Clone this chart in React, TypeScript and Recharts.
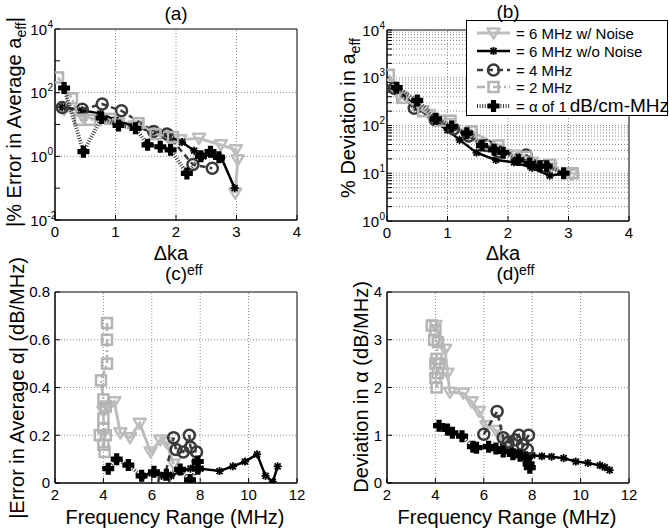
import React from 'react';
import { ScatterChart, Scatter, XAxis, YAxis, ReferenceLine, ReferenceArea } from 'recharts';

const FONT = '"Liberation Sans", Arial, Helvetica, sans-serif';

// ---------- legend / series names ----------
const SERIES_NAMES = ['6 MHz w/ Noise', '6 MHz w/o Noise', '4 MHz', '2 MHz', 'α of 1'];
const LEGEND_SUFFIX = 'dB/cm-MHz';

// ---------- panel (a): |% Error in Average a_eff| vs Δka_eff ----------
const aNoise = [[0.15, 30], [0.45, 18], [0.75, 14], [1.05, 11], [1.35, 9], [1.6, 6], [1.85, 4.5], [2.07, 3.3], [2.38, 3.7], [2.74, 2.3], [2.99, 1.6], [3.02, 0.78], [2.98, 0.07]];
const aNoNoise = [[0.12, 35], [0.45, 28], [0.75, 22], [1.0, 14], [1.3, 9], [1.6, 6], [1.9, 4], [2.1, 2.8], [2.3, 1.5], [2.45, 1.0], [2.6, 1.2], [2.75, 0.9], [2.97, 0.1]];
const a4MHz = [[0.12, 34], [0.45, 30], [0.78, 44], [1.1, 27], [1.63, 6], [1.85, 5], [2.28, 0.55], [2.6, 0.42]];
const a2MHz = [[0.05, 300], [0.28, 66], [0.41, 14], [0.58, 14], [0.91, 15], [1.38, 11], [1.66, 5], [1.95, 4]];
const aAlpha = [[0.15, 140], [0.47, 1.4], [0.77, 16], [1.05, 9.3], [1.33, 7.6], [1.53, 2.3], [1.74, 2.0], [1.91, 1.6], [2.18, 0.29], [2.41, 1.0], [2.57, 1.4], [2.71, 0.93]];

// ---------- panel (b): % Deviation in a_eff vs Δka_eff ----------
const bNoise = [[0.2, 420], [0.45, 260], [0.7, 170], [1.0, 110], [1.3, 65], [1.55, 42], [1.8, 32], [2.1, 24], [2.4, 17], [2.7, 13], [3.05, 9.5]];
const bNoNoise = [[0.15, 600], [0.5, 240], [0.8, 120], [1.0, 80], [1.2, 50], [1.48, 27], [1.8, 19], [2.1, 17], [2.4, 13], [2.69, 8.9], [2.94, 10]];
const b4MHz = [[0.12, 600], [0.45, 230], [0.8, 130], [1.1, 85], [1.35, 60], [1.65, 38], [1.85, 28], [2.3, 24], [2.6, 14]];
const b2MHz = [[0.03, 1150], [0.25, 380], [0.6, 200], [0.88, 126], [1.05, 126], [1.4, 75], [1.84, 38], [2.3, 22], [2.7, 15], [3.07, 10]];
const bAlpha = [[0.16, 620], [0.5, 335], [0.81, 138], [1.07, 95], [1.32, 69], [1.57, 38], [1.77, 31], [1.92, 27], [2.17, 19], [2.36, 16], [2.53, 14], [2.64, 14], [2.92, 10]];

// ---------- panel (c): |Error in Average α| vs frequency range ----------
const cNoise = [[4.0, 0.3], [4.2, 0.32], [4.45, 0.34], [4.7, 0.21], [5.1, 0.19], [5.5, 0.25], [5.95, 0.13], [6.35, 0.18], [6.6, 0.17], [6.9, 0.08]];
const cNoNoise = [[5.6, 0.03], [6.0, 0.04], [6.4, 0.03], [6.8, 0.03], [7.2, 0.05], [7.6, 0.06], [7.8, 0.09], [8.0, 0.06], [8.8, 0.05], [9.35, 0.07], [9.85, 0.09], [10.35, 0.12], [10.7, 0.03], [11.0, 0.005], [11.2, 0.07]];
const c4MHz = [[6.5, 0.01], [6.9, 0.19], [7.0, 0.14], [7.3, 0.13], [7.55, 0.2], [7.6, 0.15], [7.85, 0.13]];
const c2MHz = [[4.15, 0.67], [4.15, 0.6], [4.15, 0.5], [3.9, 0.43], [4.0, 0.35], [4.1, 0.32], [4.0, 0.27], [4.1, 0.2], [3.85, 0.2], [4.0, 0.16], [4.05, 0.13], [4.0, 0.23]];
const cAlpha = [[4.2, 0.06], [4.55, 0.1], [5.03, 0.075], [5.58, 0.03], [6.09, 0.047], [6.6, 0.035], [7.17, 0.057], [7.58, 0.013], [7.9, 0.06], [7.9, 0.09]];

// ---------- panel (d): Deviation in α vs frequency range ----------
const dNoise = [[4.0, 3.3], [4.4, 2.8], [4.5, 2.3], [4.6, 1.9], [5.15, 1.88], [5.5, 1.7], [5.8, 1.5], [6.1, 1.2], [6.5, 1.1], [6.8, 0.9], [7.0, 0.85]];
const dNoNoise = [[6.8, 0.75], [7.1, 0.7], [7.4, 0.65], [7.7, 0.6], [8.0, 0.58], [8.4, 0.56], [8.8, 0.55], [9.3, 0.52], [9.8, 0.45], [10.3, 0.42], [10.8, 0.37], [11.0, 0.33], [11.2, 0.27]];
const d4MHz = [[6.0, 1.02], [6.55, 1.5], [6.8, 0.95], [7.0, 0.85], [7.3, 0.9], [7.45, 1.0], [7.6, 0.8], [7.85, 1.0], [7.8, 0.7]];
const d2MHz = [[3.85, 3.3], [4.0, 3.2], [3.95, 3.0], [4.1, 2.95], [4.05, 2.6], [4.0, 2.5], [4.1, 2.3], [4.0, 2.2], [4.05, 2.0], [4.15, 2.5]];
const dAlpha = [[4.15, 1.2], [4.5, 1.12], [4.7, 1.05], [5.1, 0.98], [5.55, 0.76], [5.7, 0.74], [6.2, 0.76], [6.5, 0.72], [6.8, 0.66], [7.2, 0.6], [7.5, 0.57], [7.75, 0.52], [7.85, 0.4], [7.9, 0.32]];

// ---------- ticks ----------
const kaTicks = [0, 1, 2, 3, 4];
const freqTicks = [2, 4, 6, 8, 10, 12];
const aYTicks = [0.01, 0.1, 1, 10, 100, 1000, 10000];
const aYLabels = [-2, 0, 2, 4];
const bYMinor = [1, 2, 3, 4, 5, 6, 7, 8, 9, 10, 20, 30, 40, 50, 60, 70, 80, 90, 100, 200, 300, 400, 500, 600, 700, 800, 900, 1000, 2000, 3000, 4000, 5000, 6000, 7000, 8000, 9000, 10000];
const bYLabels = [0, 1, 2, 3, 4];
const cYTicks = [0, 0.2, 0.4, 0.6, 0.8];
const dYTicks = [0, 1, 2, 3, 4];

// ---------- styles ----------
type Kind = 'tri' | 'star' | 'circle' | 'square' | 'plus';
const STYLES: { color: string; width: number; dash?: string; kind: Kind }[] = [
  { color: '#bdbdbd', width: 3, kind: 'tri' },
  { color: '#000000', width: 2.5, kind: 'star' },
  { color: '#3a3a3a', width: 2.5, dash: '6 4', kind: 'circle' },
  { color: '#b4b4b4', width: 2.5, dash: '8 3 2 3', kind: 'square' },
  { color: '#3a3a3a', width: 4, dash: '1 1.6', kind: 'plus' },
];

function plusPath(cx: number, cy: number, a: number, t: number) {
  return `M${cx - t},${cy - a}H${cx + t}V${cy - t}H${cx + a}V${cy + t}H${cx + t}V${cy + a}H${cx - t}V${cy + t}H${cx - a}V${cy - t}H${cx - t}Z`;
}

function Marker({ kind, cx, cy }: { kind: Kind; cx: number; cy: number }) {
  if (cx == null || cy == null || isNaN(cx) || isNaN(cy)) return <g />;
  switch (kind) {
    case 'tri':
      return <path d={`M${cx - 6},${cy - 4.5}L${cx + 6},${cy - 4.5}L${cx},${cy + 5.5}Z`} fill="none" stroke="#bdbdbd" strokeWidth={2.5} strokeLinejoin="round" />;
    case 'star':
      return (
        <g stroke="#000" strokeWidth={1.8}>
          <line x1={cx - 4} y1={cy} x2={cx + 4} y2={cy} />
          <line x1={cx} y1={cy - 4} x2={cx} y2={cy + 4} />
          <line x1={cx - 3} y1={cy - 3} x2={cx + 3} y2={cy + 3} />
          <line x1={cx - 3} y1={cy + 3} x2={cx + 3} y2={cy - 3} />
        </g>
      );
    case 'circle':
      return <circle cx={cx} cy={cy} r={5.5} fill="none" stroke="#3a3a3a" strokeWidth={2.5} />;
    case 'square':
      return <rect x={cx - 5} y={cy - 5} width={10} height={10} fill="none" stroke="#b4b4b4" strokeWidth={2.5} />;
    case 'plus':
    default:
      return <path d={plusPath(cx, cy, 6, 2.6)} fill="#000" />;
  }
}

const LogTick = (props: any) => {
  const { x, y, payload, labels } = props;
  const lv = Math.log10(payload.value);
  const e = Math.round(lv);
  if (Math.abs(lv - e) > 1e-6 || !labels.includes(e)) return <g />;
  return (
    <g>
      <text x={x} y={y + 5.5} textAnchor="end" fontSize={15} fontFamily={FONT} fill="#000">10</text>
      <text x={x + 0.5} y={y - 1.5} textAnchor="start" fontSize={10} fontFamily={FONT} fill="#000">{e}</text>
    </g>
  );
};

type PanelProps = {
  plot: { l: number; t: number; r: number; b: number };
  xDomain: [number, number];
  xTicks: number[];
  xGrid: number[];
  yDomain: [number, number];
  yTicks: number[];
  yGrid: number[];
  log?: boolean;
  logLabels?: number[];
  series: number[][][];
};

function Panel({ plot, xDomain, xTicks, xGrid, yDomain, yTicks, yGrid, log, logLabels, series }: PanelProps) {
  const ML = 10, YW = 50, MT = 20, MR = 20, XH = 30, MB = 10;
  const w = plot.r - plot.l;
  const h = plot.b - plot.t;
  const width = w + ML + YW + MR;
  const height = h + MT + XH + MB;
  const tickStyle = { fontSize: 15, fill: '#000', fontFamily: FONT };
  return (
    <div style={{ position: 'absolute', left: plot.l - ML - YW, top: plot.t - MT }}>
      <ScatterChart width={width} height={height} margin={{ top: MT, right: MR, bottom: MB, left: ML }}>
        <XAxis type="number" dataKey="x" domain={xDomain} ticks={xTicks} interval={0} allowDataOverflow height={XH}
          tickSize={-5} tickMargin={11} stroke="#000" tick={tickStyle} />
        <YAxis type="number" dataKey="y" domain={yDomain} scale={log ? 'log' : 'linear'} ticks={yTicks} interval={0}
          allowDataOverflow width={YW} tickSize={-5} tickMargin={log ? 13 : 10} stroke="#000"
          tick={log ? <LogTick labels={logLabels} /> : tickStyle} />
        {xGrid.map((v) => <ReferenceLine key={'gx' + v} x={v} stroke="#8a8a8a" strokeDasharray="1 2" />)}
        {yGrid.map((v) => <ReferenceLine key={'gy' + v} y={v} stroke="#8a8a8a" strokeDasharray="1 2" />)}
        <ReferenceArea x1={xDomain[0]} x2={xDomain[1]} y1={yDomain[0]} y2={yDomain[1]} fill="none" fillOpacity={0} stroke="#000" strokeWidth={1} />
        {series.map((pts, i) => {
          const st = STYLES[i];
          return (
            <Scatter key={i} name={SERIES_NAMES[i]} data={pts.map(([x, y]) => ({ x, y }))} fill={st.color}
              line={{ stroke: st.color, strokeWidth: st.width, strokeDasharray: st.dash }} lineType="joint"
              shape={(p: any) => <Marker kind={st.kind} cx={p.cx} cy={p.cy} />} isAnimationActive={false} />
          );
        })}
      </ScatterChart>
    </div>
  );
}

const txt: React.CSSProperties = { position: 'absolute', fontFamily: FONT, color: '#000', whiteSpace: 'nowrap', lineHeight: 1 };

function Title({ x, y, children, size = 19 }: any) {
  return <div style={{ ...txt, left: x, top: y, fontSize: size, transform: 'translate(-50%,-50%)' }}>{children}</div>;
}
function VLabel({ x, y, children, size = 20 }: any) {
  return <div style={{ ...txt, left: x, top: y, fontSize: size, transform: 'translate(-50%,-50%) rotate(-90deg)' }}>{children}</div>;
}
const sub = (s: string) => <span style={{ fontSize: '0.7em', position: 'relative', top: '0.35em' }}>{s}</span>;

function KaLabel({ cx }: { cx: number }) {
  return (
    <>
      <div style={{ ...txt, left: cx, top: 253, fontSize: 20, transform: 'translate(-50%,-50%)' }}>Δka</div>
      <div style={{ ...txt, left: cx + 16, top: 270, fontSize: 14, transform: 'translate(0,-50%)' }}>eff</div>
    </>
  );
}

function Legend() {
  const rows = [33, 51, 70, 87, 106];
  return (
    <svg width={669} height={531} style={{ position: 'absolute', left: 0, top: 0, pointerEvents: 'none' }}>
      <rect x={466.5} y={20.5} width={201} height={95} fill="#fff" stroke="#000" strokeWidth={1} />
      {rows.map((y, i) => {
        const st = STYLES[i];
        return (
          <g key={i}>
            <line x1={477} x2={510} y1={y} y2={y} stroke={st.color} strokeWidth={st.width} strokeDasharray={st.dash} />
            <Marker kind={st.kind} cx={493.5} cy={y} />
            <text x={516} y={y + 5.5} fontSize={15} fontFamily={FONT} fill="#000">
              {'= ' + SERIES_NAMES[i]}
              {i === 4 ? <tspan fontSize={19} dx={3}>{LEGEND_SUFFIX}</tspan> : null}
            </text>
          </g>
        );
      })}
    </svg>
  );
}

export default function App() {
  const A = { l: 55, t: 28.5, r: 297, b: 219.5 };
  const B = { l: 387, t: 29.5, r: 629, b: 220.5 };
  const C = { l: 55, t: 292, r: 297, b: 483 };
  const D = { l: 387, t: 292, r: 629, b: 483 };
  return (
    <div style={{ position: 'absolute', left: 0, top: 0, width: 669, height: 531, background: '#fff', overflow: 'hidden' }}>
      <Panel plot={A} xDomain={[0, 4]} xTicks={kaTicks} xGrid={[1, 2, 3]} yDomain={[0.01, 10000]} yTicks={aYTicks}
        yGrid={[1, 100]} log logLabels={aYLabels} series={[aNoise, aNoNoise, a4MHz, a2MHz, aAlpha]} />
      <Panel plot={B} xDomain={[0, 4]} xTicks={kaTicks} xGrid={[1, 2, 3]} yDomain={[1, 10000]} yTicks={bYMinor}
        yGrid={bYMinor.slice(1, -1)} log logLabels={bYLabels} series={[bNoise, bNoNoise, b4MHz, b2MHz, bAlpha]} />
      <Panel plot={C} xDomain={[2, 12]} xTicks={freqTicks} xGrid={[4, 6, 8, 10]} yDomain={[0, 0.8]} yTicks={cYTicks}
        yGrid={[0.2, 0.4, 0.6]} series={[cNoise, cNoNoise, c4MHz, c2MHz, cAlpha]} />
      <Panel plot={D} xDomain={[2, 12]} xTicks={freqTicks} xGrid={[4, 6, 8, 10]} yDomain={[0, 4]} yTicks={dYTicks}
        yGrid={[1, 2, 3]} series={[dNoise, dNoNoise, d4MHz, d2MHz, dAlpha]} />

      <Legend />

      <Title x={176} y={13}>(a)</Title>
      <Title x={508} y={11}>(b)</Title>
      <Title x={176} y={273}>(c)</Title>
      <Title x={508} y={273}>(d)</Title>

      <KaLabel cx={171} />
      <KaLabel cx={503} />
      <Title x={175} y={517} size={20}>Frequency Range (MHz)</Title>
      <Title x={507} y={517} size={20}>Frequency Range (MHz)</Title>

      <VLabel x={14} y={122}>|% Error in Average a{sub('eff')}|</VLabel>
      <VLabel x={348} y={118}>% Deviation in a{sub('eff')}</VLabel>
      <VLabel x={17} y={388}>|Error in Average α| (dB/MHz)</VLabel>
      <VLabel x={361} y={387}>Deviation in α (dB/MHz)</VLabel>
    </div>
  );
}
